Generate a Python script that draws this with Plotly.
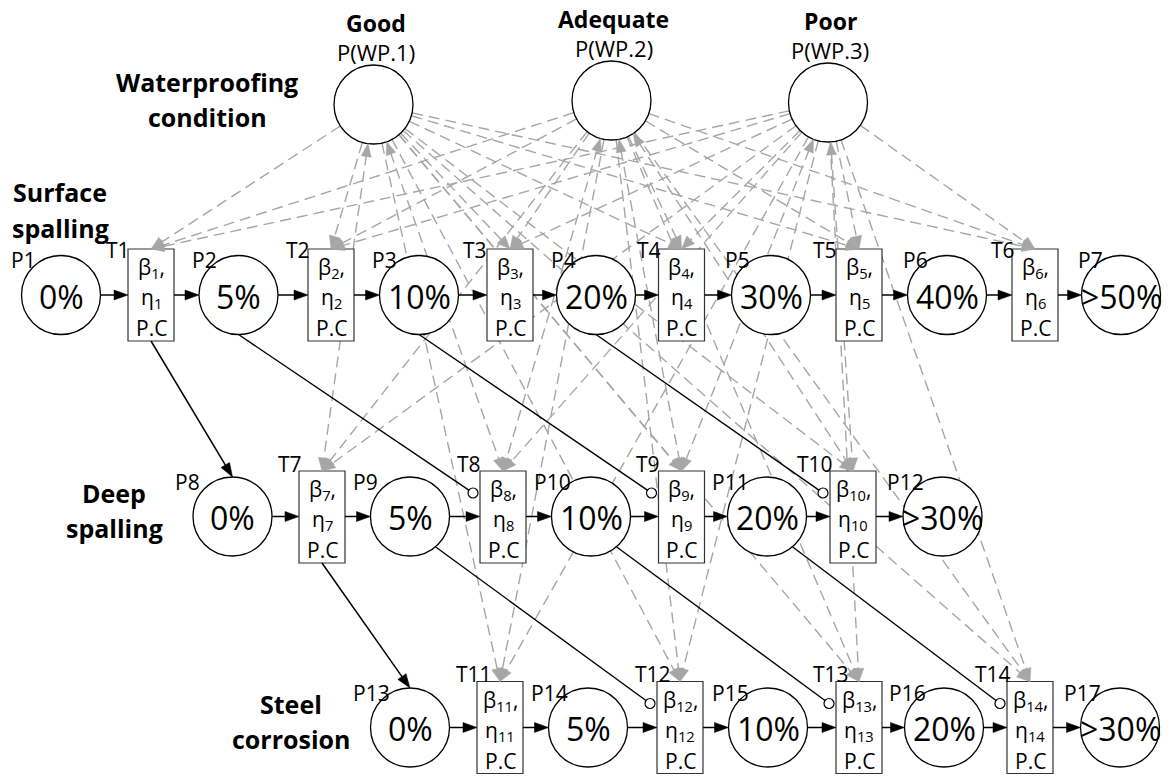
import math
import plotly.graph_objects as go

# ---------------- data ----------------
wp_names = ["Good", "Adequate", "Poor"]
wp_labels = ["P(WP.1)", "P(WP.2)", "P(WP.3)"]
row_titles = [["Waterproofing", "condition"], ["Surface", "spalling"],
              ["Deep", "spalling"], ["Steel", "corrosion"]]
place_labels = ["P1", "P2", "P3", "P4", "P5", "P6", "P7",
                "P8", "P9", "P10", "P11", "P12",
                "P13", "P14", "P15", "P16", "P17"]
place_values = ["0%", "5%", "10%", "20%", "30%", "40%", ">50%",
                "0%", "5%", "10%", "20%", ">30%",
                "0%", "5%", "10%", "20%", ">30%"]
trans_labels = ["T1", "T2", "T3", "T4", "T5", "T6", "T7",
                "T8", "T9", "T10", "T11", "T12", "T13", "T14"]
trans_index = ["1", "2", "3", "4", "5", "6", "7",
               "8", "9", "10", "11", "12", "13", "14"]
flow_arcs = [("P1", "T1"), ("T1", "P2"), ("P2", "T2"), ("T2", "P3"), ("P3", "T3"),
             ("T3", "P4"), ("P4", "T4"), ("T4", "P5"), ("P5", "T5"), ("T5", "P6"),
             ("P6", "T6"), ("T6", "P7"),
             ("P8", "T7"), ("T7", "P9"), ("P9", "T8"), ("T8", "P10"), ("P10", "T9"),
             ("T9", "P11"), ("P11", "T10"), ("T10", "P12"),
             ("P13", "T11"), ("T11", "P14"), ("P14", "T12"), ("T12", "P15"),
             ("P15", "T13"), ("T13", "P16"), ("P16", "T14"), ("T14", "P17")]
cross_arcs = [("T1", "P8"), ("T7", "P13")]
inhibitor_arcs = [("P2", "T8"), ("P3", "T9"), ("P4", "T10"),
                  ("P9", "T12"), ("P10", "T13"), ("P11", "T14")]
feedback_arcs = [("Good", "T7"), ("Good", "T8"),
                 ("Adequate", "T8"), ("Adequate", "T9"), ("Adequate", "T10"),
                 ("Poor", "T9"), ("Poor", "T10")]

# ---------------- layout (pixel positions) ----------------
W, H = 1172, 776
R = 39.5
wp_x = [373.5, 611.5, 828]
wp_y = [104.5, 100.5, 102.5]
place_x = [61, 238.5, 419, 596, 771, 947, 1121,
           232.5, 410, 591, 767, 942.5,
           410, 588, 768, 944, 1120]
place_y = [295] * 7 + [516.5] * 5 + [727.5] * 5
place_label_dx = [-38, -34, -35, -33, -34, -32, -31,
                  -45, -45, -39, -37, -37,
                  -39, -39, -38, -37, -38]
trans_x = [151, 331, 510, 681.5, 859, 1035,
           322, 503, 681.5, 853,
           500, 680, 859, 1030]
trans_y = [295] * 6 + [517] * 4 + [727.5] * 4
trans_label_dx = [-10, -10, -12, -10, -11, -9, -9, -11, -11, -15, -3, -4, -5, -14]
trans_label_dy = [2] * 6 + [-6] * 4 + [-7] * 4
inhib_start_angle = [90, 90, 90, 50, 50, 50]
TW, TH = 46, 92

FONT = "Open Sans"
GRAY = "#a6a6a6"

P = {lab: (place_x[i], place_y[i]) for i, lab in enumerate(place_labels)}
T = {lab: (trans_x[i], trans_y[i]) for i, lab in enumerate(trans_labels)}

shapes = []
annotations = []


def unit(x0, y0, x1, y1):
    d = math.hypot(x1 - x0, y1 - y0)
    return (x1 - x0) / d, (y1 - y0) / d


def head(tx, ty, ux, uy, L, Wd, color):
    bx, by = tx - L * ux, ty - L * uy
    px, py = -uy, ux
    path = "M {:.2f} {:.2f} L {:.2f} {:.2f} L {:.2f} {:.2f} Z".format(
        tx, ty, bx + Wd * px, by + Wd * py, bx - Wd * px, by - Wd * py)
    return dict(type="path", path=path, xref="x", yref="y",
                fillcolor=color, line=dict(color=color, width=0.5), layer="above")


def line(x0, y0, x1, y1, color, width, dash="solid"):
    return dict(type="line", x0=x0, y0=y0, x1=x1, y1=y1, xref="x", yref="y",
                line=dict(color=color, width=width, dash=dash), layer="above")


# ---- gray dashed arcs: waterproofing places -> all transitions ----
gray_heads = []
for i in range(len(wp_names)):
    cx, cy = wp_x[i], wp_y[i]
    for tl in trans_labels:
        tx, ty = T[tl]
        tip = (tx, ty - TH / 2)
        ux, uy = unit(cx, cy, tip[0], tip[1])
        sx, sy = cx + R * ux, cy + R * uy
        L = 13
        s0x, s0y = sx, sy
        if (wp_names[i], tl) in feedback_arcs:
            gray_heads.append(head(sx, sy, -ux, -uy, L, 5, GRAY))
            s0x, s0y = sx + (L - 2) * ux, sy + (L - 2) * uy
        shapes.append(line(s0x, s0y, tip[0] - (L - 2) * ux, tip[1] - (L - 2) * uy,
                           GRAY, 1.4, "11px,6px"))
        gray_heads.append(head(tip[0], tip[1], ux, uy, L, 5.5, GRAY))

# ---- nodes ----
for i in range(len(wp_names)):
    shapes.append(dict(type="circle", xref="x", yref="y",
                       x0=wp_x[i] - R, x1=wp_x[i] + R, y0=wp_y[i] - R, y1=wp_y[i] + R,
                       fillcolor="white", line=dict(color="black", width=1.3), layer="above"))
for i, lab in enumerate(place_labels):
    x, y = place_x[i], place_y[i]
    shapes.append(dict(type="circle", xref="x", yref="y",
                       x0=x - R, x1=x + R, y0=y - R, y1=y + R,
                       fillcolor="white", line=dict(color="black", width=1.3), layer="above"))
for i, lab in enumerate(trans_labels):
    x, y = trans_x[i], trans_y[i]
    shapes.append(dict(type="rect", xref="x", yref="y",
                       x0=x - TW / 2, x1=x + TW / 2, y0=y - TH / 2, y1=y + TH / 2,
                       fillcolor="white", line=dict(color="#333333", width=1.2), layer="above"))

shapes.extend(gray_heads)

# ---- black flow arcs ----
for a, b in flow_arcs:
    if a.startswith("P"):
        (px, py), (tx, ty) = P[a], T[b]
        x0, y0, x1, y1 = px + R, py, tx - TW / 2, py
    else:
        (tx, ty), (px, py) = T[a], P[b]
        x0, y0, x1, y1 = tx + TW / 2, py, px - R, py
    shapes.append(line(x0, y0, x1 - 10, y1, "black", 1.5))
    shapes.append(head(x1, y1, 1, 0, 14, 5, "black"))

for a, b in cross_arcs:
    (tx, ty), (px, py) = T[a], P[b]
    x0, y0 = tx, ty + TH / 2
    x1, y1 = px, py - R
    ux, uy = unit(x0, y0, x1, y1)
    shapes.append(line(x0, y0, x1 - 10 * ux, y1 - 10 * uy, "black", 1.5))
    shapes.append(head(x1, y1, ux, uy, 14, 5, "black"))

for k, (a, b) in enumerate(inhibitor_arcs):
    (px, py), (tx, ty) = P[a], T[b]
    ang = math.radians(inhib_start_angle[k])
    x0, y0 = px + R * math.cos(ang), py + R * math.sin(ang)
    cx, cy = tx - TW / 2 - 7, ty - TH / 2 + 22
    ux, uy = unit(x0, y0, cx, cy)
    shapes.append(line(x0, y0, cx - 5 * ux, cy - 5 * uy, "black", 1.4))
    shapes.append(dict(type="circle", xref="x", yref="y", x0=cx - 5, x1=cx + 5,
                       y0=cy - 5, y1=cy + 5, fillcolor="white",
                       line=dict(color="black", width=1.2), layer="above"))


# ---- text ----
def text(x, y, s, size, bold=False, xanchor="center"):
    annotations.append(dict(x=x, y=y, xref="x", yref="y", text=("<b>%s</b>" % s) if bold else s,
                            showarrow=False, xanchor=xanchor, yanchor="middle",
                            font=dict(family=FONT, size=size, color="black")))


for i in range(len(wp_names)):
    text(wp_x[i] + 2, wp_y[i] - 82, wp_names[i], 23, bold=True)
    text(wp_x[i] + 2, wp_y[i] - 53, wp_labels[i], 22)

title_pos = [((207, 82), (207, 117)), ((60, 192), (60, 228)),
             ((114, 493), (114, 528)), ((291, 704), (291, 739))]
for lines_, pos in zip(row_titles, title_pos):
    for s, (x, y) in zip(lines_, pos):
        text(x, y, s, 25, bold=True)

for i, lab in enumerate(place_labels):
    x, y = place_x[i], place_y[i]
    text(x, y + 1, place_values[i], 32)
    text(x + place_label_dx[i], y - 35, lab, 21)

for i, lab in enumerate(trans_labels):
    x, y = trans_x[i], trans_y[i]
    text(x, y - 27, "β<sub>%s</sub>," % trans_index[i], 21)
    text(x, y + 3, "η<sub>%s</sub>" % trans_index[i], 21)
    text(x, y + 33, "P.C", 21)
    text(x - TW / 2 + trans_label_dx[i], y - TH / 2 + trans_label_dy[i] - 1, lab, 21)

fig = go.Figure()
fig.add_trace(go.Scatter(x=[0, W], y=[0, H], mode="markers",
                         marker=dict(opacity=0), hoverinfo="skip", showlegend=False))
fig.update_layout(width=W, height=H, margin=dict(l=0, r=0, t=0, b=0),
                  paper_bgcolor="white", plot_bgcolor="white",
                  xaxis=dict(range=[0, W], visible=False, fixedrange=True),
                  yaxis=dict(range=[H, 0], visible=False, fixedrange=True),
                  shapes=shapes, annotations=annotations, showlegend=False)
fig.write_html("out.html", config={"displayModeBar": False},
               post_script="document.body.style.margin='0';document.body.style.overflow='hidden';")
